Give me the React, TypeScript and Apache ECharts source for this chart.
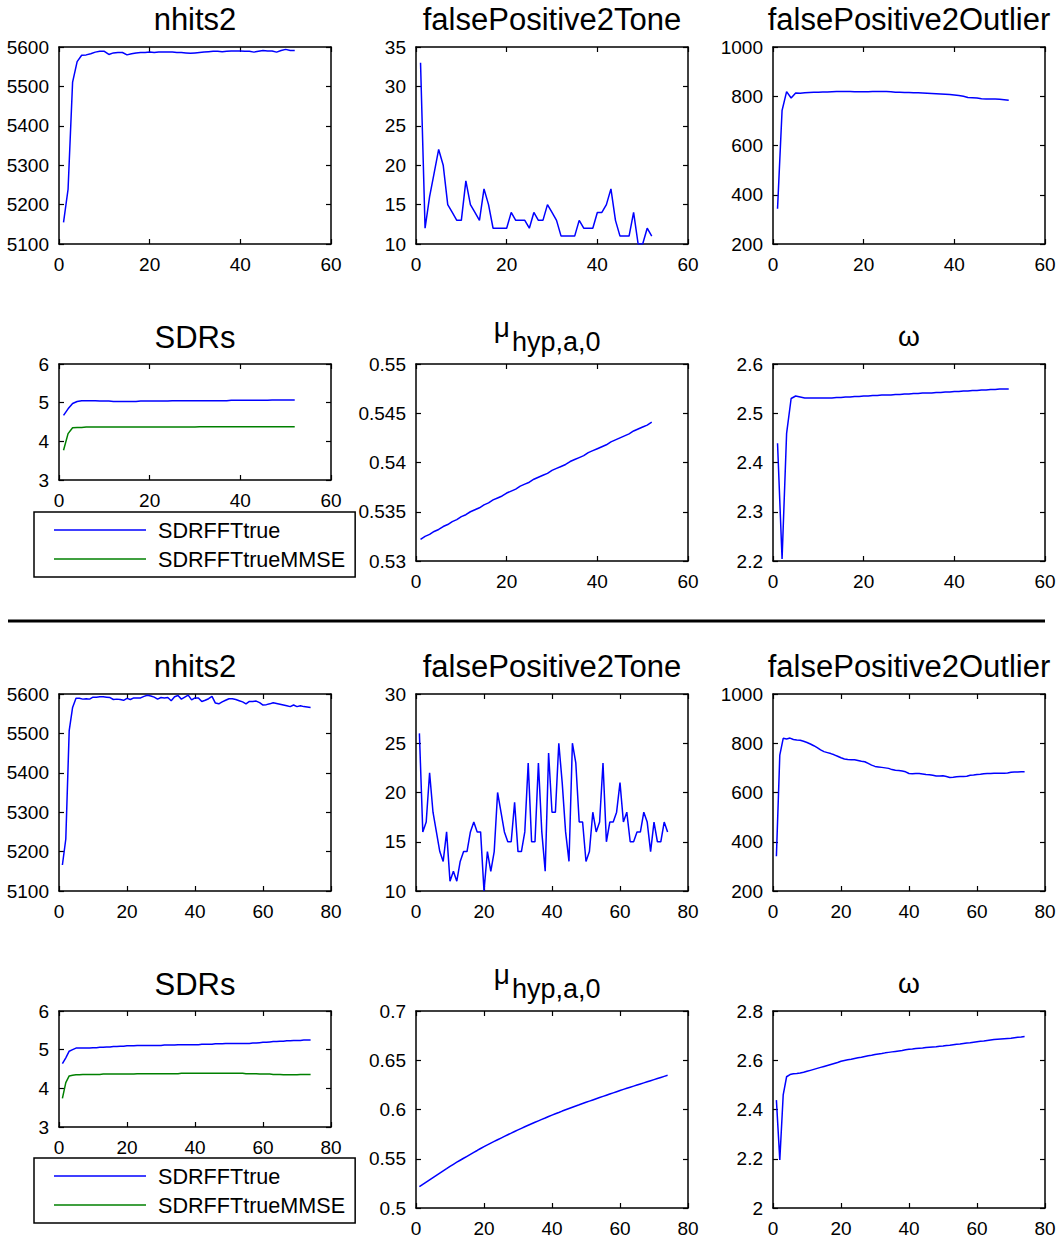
import React, { useEffect, useRef } from "react";
import * as echarts from "echarts";

// ---- Run A (52 iterations) ----
const nhits2A = [
  5155, 5239, 5511, 5563, 5579, 5580, 5583, 5587, 5589, 5589,
  5581, 5585, 5586, 5586, 5580, 5583, 5585, 5586, 5586, 5587,
  5586, 5587, 5587, 5587, 5587, 5586, 5586, 5585, 5584, 5585,
  5586, 5587, 5588, 5589, 5589, 5588, 5589, 5590, 5590, 5590,
  5589, 5589, 5587, 5589, 5591, 5590, 5590, 5587, 5591, 5594,
  5591, 5591,
];
const fpToneA = [
  33, 12, 16, 19, 22, 20, 15, 14, 13, 13,
  18, 15, 14, 13, 17, 15, 12, 12, 12, 12,
  14, 13, 13, 13, 12, 14, 13, 13, 15, 14,
  13, 11, 11, 11, 11, 13, 12, 12, 12, 14,
  14, 15, 17, 13, 11, 11, 11, 14, 10, 10,
  12, 11,
];
const fpOutlierA = [
  343, 742, 819, 793, 813, 812, 814, 815, 816, 816,
  817, 817, 818, 819, 819, 819, 819, 818, 818, 818,
  818, 819, 819, 819, 819, 818, 816, 816, 815, 815,
  814, 814, 813, 812, 811, 810, 809, 808, 807, 805,
  803, 800, 795, 794, 793, 790, 789, 789, 789, 788,
  786, 784,
];
const sdrTrueA = [
  4.67, 4.84, 4.98, 5.03, 5.05, 5.05, 5.05, 5.05, 5.04, 5.04,
  5.04, 5.03, 5.03, 5.03, 5.03, 5.03, 5.03, 5.04, 5.04, 5.04,
  5.04, 5.04, 5.04, 5.04, 5.05, 5.05, 5.05, 5.05, 5.05, 5.05,
  5.05, 5.05, 5.05, 5.05, 5.05, 5.05, 5.05, 5.06, 5.06, 5.06,
  5.06, 5.06, 5.06, 5.06, 5.06, 5.06, 5.07, 5.07, 5.07, 5.07,
  5.07, 5.07,
];
const sdrMmseA = [
  3.77, 4.2, 4.35, 4.36, 4.36, 4.37, 4.37, 4.37, 4.37, 4.37,
  4.37, 4.37, 4.37, 4.37, 4.37, 4.37, 4.37, 4.37, 4.37, 4.37,
  4.37, 4.37, 4.37, 4.37, 4.37, 4.37, 4.37, 4.37, 4.37, 4.37,
  4.38, 4.38, 4.38, 4.38, 4.38, 4.38, 4.38, 4.38, 4.38, 4.38,
  4.38, 4.38, 4.38, 4.38, 4.38, 4.38, 4.38, 4.38, 4.38, 4.38,
  4.38, 4.38,
];
const muA = [
  0.5322, 0.5325, 0.5327, 0.533, 0.5332, 0.5335, 0.5337, 0.534, 0.5342, 0.5345,
  0.5347, 0.535, 0.5352, 0.5354, 0.5357, 0.5359, 0.5362, 0.5364, 0.5366, 0.5369,
  0.5371, 0.5373, 0.5376, 0.5378, 0.538, 0.5383, 0.5385, 0.5387, 0.5389, 0.5392,
  0.5394, 0.5396, 0.5398, 0.5401, 0.5403, 0.5405, 0.5407, 0.541, 0.5412, 0.5414,
  0.5416, 0.5418, 0.5421, 0.5423, 0.5425, 0.5427, 0.5429, 0.5432, 0.5434, 0.5436,
  0.5438, 0.5441,
];
const omegaA = [
  2.439, 2.204, 2.459, 2.53, 2.535, 2.533, 2.531, 2.531, 2.531, 2.531,
  2.531, 2.531, 2.531, 2.532, 2.532, 2.533, 2.533, 2.534, 2.534, 2.535,
  2.535, 2.536, 2.536, 2.537, 2.537, 2.537, 2.538, 2.538, 2.539, 2.539,
  2.54, 2.54, 2.541, 2.541, 2.541, 2.542, 2.542, 2.543, 2.543, 2.544,
  2.544, 2.545, 2.545, 2.546, 2.546, 2.547, 2.547, 2.548, 2.548, 2.549,
  2.549, 2.549,
];

// ---- Run B (74 iterations) ----
const nhits2B = [
  5166, 5232, 5507, 5566, 5589, 5589, 5587, 5588, 5587, 5592,
  5592, 5593, 5593, 5592, 5591, 5586, 5587, 5586, 5584, 5589,
  5586, 5590, 5590, 5590, 5594, 5597, 5595, 5592, 5587, 5591,
  5590, 5591, 5583, 5593, 5596, 5587, 5592, 5597, 5585, 5590,
  5590, 5581, 5584, 5588, 5594, 5577, 5575, 5580, 5584, 5588,
  5588, 5586, 5583, 5580, 5575, 5581, 5581, 5582, 5578, 5572,
  5573, 5575, 5578, 5576, 5574, 5572, 5570, 5568, 5572, 5568,
  5570, 5568, 5567, 5566,
];
const fpToneB = [
  26, 16, 17, 22, 18, 16, 14, 13, 16, 11,
  12, 11, 13, 14, 14, 16, 17, 16, 16, 10,
  14, 12, 14, 20, 18, 16, 15, 15, 19, 14,
  14, 16, 23, 15, 15, 23, 16, 12, 24, 18,
  18, 25, 21, 16, 13, 25, 23, 17, 17, 13,
  14, 18, 16, 17, 23, 15, 17, 17, 18, 21,
  17, 18, 15, 15, 16, 16, 18, 17, 14, 17,
  15, 15, 17, 16,
];
const fpOutlierB = [
  341, 752, 820, 817, 821, 815, 813, 812, 808, 803,
  797, 790, 782, 773, 766, 762, 758, 753, 747, 741,
  736, 734, 733, 733, 730, 727, 725, 718, 711, 706,
  704, 702, 700, 698, 693, 690, 689, 687, 684, 677,
  676, 677, 677, 675, 673, 672, 670, 667, 667, 668,
  665, 661, 662, 664, 665, 665, 666, 670, 671, 673,
  674, 676, 677, 677, 678, 678, 678, 678, 679, 682,
  683, 683, 684, 684,
];
const sdrTrueB = [
  4.64, 4.79, 4.96, 5.0, 5.04, 5.04, 5.04, 5.04, 5.04, 5.05,
  5.05, 5.06, 5.06, 5.07, 5.07, 5.08, 5.08, 5.09, 5.09, 5.1,
  5.1, 5.1, 5.11, 5.11, 5.11, 5.11, 5.11, 5.11, 5.11, 5.11,
  5.12, 5.12, 5.12, 5.12, 5.13, 5.13, 5.13, 5.13, 5.13, 5.13,
  5.13, 5.14, 5.14, 5.14, 5.14, 5.15, 5.15, 5.15, 5.16, 5.16,
  5.16, 5.16, 5.16, 5.16, 5.16, 5.16, 5.17, 5.17, 5.18, 5.19,
  5.19, 5.2, 5.21, 5.21, 5.22, 5.22, 5.23, 5.23, 5.24, 5.24,
  5.24, 5.25, 5.25, 5.25,
];
const sdrMmseB = [
  3.74, 4.15, 4.32, 4.34, 4.35, 4.35, 4.36, 4.36, 4.36, 4.36,
  4.36, 4.36, 4.37, 4.37, 4.37, 4.37, 4.37, 4.37, 4.37, 4.37,
  4.37, 4.37, 4.38, 4.38, 4.38, 4.38, 4.38, 4.38, 4.38, 4.38,
  4.38, 4.38, 4.38, 4.38, 4.38, 4.39, 4.39, 4.39, 4.39, 4.39,
  4.39, 4.39, 4.39, 4.39, 4.39, 4.39, 4.39, 4.39, 4.39, 4.39,
  4.39, 4.39, 4.39, 4.39, 4.38, 4.38, 4.38, 4.38, 4.37, 4.37,
  4.37, 4.37, 4.36, 4.36, 4.36, 4.35, 4.35, 4.35, 4.35, 4.35,
  4.36, 4.36, 4.36, 4.36,
];
const muB = [
  0.5216, 0.524, 0.5263, 0.5286, 0.5309, 0.5332, 0.5355, 0.5378, 0.54, 0.5423,
  0.5444, 0.5465, 0.5485, 0.5505, 0.5525, 0.5545, 0.5565, 0.5584, 0.5604, 0.5623,
  0.5641, 0.5659, 0.5676, 0.5693, 0.571, 0.5727, 0.5744, 0.576, 0.5777, 0.5793,
  0.5809, 0.5825, 0.584, 0.5855, 0.587, 0.5885, 0.59, 0.5914, 0.5929, 0.5943,
  0.5957, 0.597, 0.5984, 0.5997, 0.601, 0.6023, 0.6036, 0.6048, 0.6061, 0.6073,
  0.6085, 0.6097, 0.6109, 0.6121, 0.6133, 0.6145, 0.6157, 0.6169, 0.6181, 0.6193,
  0.6204, 0.6215, 0.6226, 0.6237, 0.6248, 0.6259, 0.627, 0.6281, 0.6292, 0.6303,
  0.6314, 0.6325, 0.6336, 0.6347,
];
const omegaB = [
  2.438, 2.195, 2.459, 2.533, 2.542, 2.545, 2.546, 2.548, 2.551, 2.555,
  2.559, 2.563, 2.567, 2.571, 2.575, 2.579, 2.583, 2.587, 2.591, 2.596,
  2.599, 2.602, 2.604, 2.607, 2.61, 2.612, 2.615, 2.618, 2.62, 2.623,
  2.625, 2.627, 2.63, 2.632, 2.634, 2.636, 2.638, 2.64, 2.643, 2.645,
  2.646, 2.648, 2.649, 2.65, 2.652, 2.653, 2.654, 2.655, 2.657, 2.658,
  2.66, 2.661, 2.663, 2.665, 2.666, 2.668, 2.67, 2.671, 2.673, 2.675,
  2.677, 2.678, 2.68, 2.682, 2.684, 2.685, 2.686, 2.687, 2.688, 2.689,
  2.691, 2.693, 2.694, 2.696,
];

const legendNames = ["SDRFFTtrue", "SDRFFTtrueMMSE"];

const FONT = "'Liberation Sans', Arial, Helvetica, sans-serif";
const BLUE = "#0000ff";
const GREEN = "#008000";
const BLACK = "#000000";

type Line = { name?: string; data: number[]; color: string };
type Panel = {
  title: string;
  left: number;
  top: number;
  width: number;
  height: number;
  xMax: number;
  yMin: number;
  yMax: number;
  yStep: number;
  lines: Line[];
};

const COLS = [59, 416, 773];
const PW = 272;
const PH = 197;

function halfPanels(
  yOff: number,
  xMax: number,
  d: {
    nhits: number[];
    tone: number[];
    outlier: number[];
    sdrT: number[];
    sdrM: number[];
    mu: number[];
    omega: number[];
    toneMax: number;
    muRange: [number, number, number];
    omRange: [number, number, number];
  }
): Panel[] {
  return [
    { title: "nhits2", left: COLS[0], top: 47 + yOff, width: PW, height: PH, xMax, yMin: 5100, yMax: 5600, yStep: 100, lines: [{ data: d.nhits, color: BLUE }] },
    { title: "falsePositive2Tone", left: COLS[1], top: 47 + yOff, width: PW, height: PH, xMax, yMin: 10, yMax: d.toneMax, yStep: 5, lines: [{ data: d.tone, color: BLUE }] },
    { title: "falsePositive2Outlier", left: COLS[2], top: 47 + yOff, width: PW, height: PH, xMax, yMin: 200, yMax: 1000, yStep: 200, lines: [{ data: d.outlier, color: BLUE }] },
    {
      title: "SDRs", left: COLS[0], top: 364 + yOff, width: PW, height: 116, xMax, yMin: 3, yMax: 6, yStep: 1,
      lines: [
        { name: legendNames[0], data: d.sdrT, color: BLUE },
        { name: legendNames[1], data: d.sdrM, color: GREEN },
      ],
    },
    { title: "", left: COLS[1], top: 364 + yOff, width: PW, height: PH, xMax, yMin: d.muRange[0], yMax: d.muRange[1], yStep: d.muRange[2], lines: [{ data: d.mu, color: BLUE }] },
    { title: "ω", left: COLS[2], top: 364 + yOff, width: PW, height: PH, xMax, yMin: d.omRange[0], yMax: d.omRange[1], yStep: d.omRange[2], lines: [{ data: d.omega, color: BLUE }] },
  ];
}

const HALF_B = 647;

const panels: Panel[] = [
  ...halfPanels(0, 60, {
    nhits: nhits2A, tone: fpToneA, outlier: fpOutlierA, sdrT: sdrTrueA, sdrM: sdrMmseA, mu: muA, omega: omegaA,
    toneMax: 35, muRange: [0.53, 0.55, 0.005], omRange: [2.2, 2.6, 0.1],
  }),
  ...halfPanels(HALF_B, 80, {
    nhits: nhits2B, tone: fpToneB, outlier: fpOutlierB, sdrT: sdrTrueB, sdrM: sdrMmseB, mu: muB, omega: omegaB,
    toneMax: 30, muRange: [0.5, 0.7, 0.05], omRange: [2, 2.8, 0.2],
  }),
];

const fmt = (v: number) => String(parseFloat(v.toFixed(6)));

function buildOption() {
  const grid: any[] = [];
  const xAxis: any[] = [];
  const yAxis: any[] = [];
  const series: any[] = [];
  const graphic: any[] = [];

  const axisLine = { show: true, onZero: false, lineStyle: { color: BLACK, width: 1.5 } };
  const axisTick = { show: true, inside: true, length: 5, lineStyle: { color: BLACK, width: 1.2 } };
  const labelText = { show: true, color: BLACK, fontSize: 19, fontFamily: FONT, formatter: fmt };

  panels.forEach((p, i) => {
    grid.push({ left: p.left, top: p.top, width: p.width, height: p.height, show: false });
    const xBase = { type: "value", gridIndex: i, min: 0, max: p.xMax, interval: 20, axisLine, axisTick, splitLine: { show: false } };
    const yBase = { type: "value", gridIndex: i, min: p.yMin, max: p.yMax, interval: p.yStep, axisLine, axisTick, splitLine: { show: false } };
    xAxis.push({ ...xBase, position: "bottom", axisLabel: { ...labelText, margin: 11 } });
    xAxis.push({ ...xBase, position: "top", axisLabel: { show: false } });
    yAxis.push({ ...yBase, position: "left", axisLabel: { ...labelText, margin: 10 } });
    yAxis.push({ ...yBase, position: "right", axisLabel: { show: false } });

    p.lines.forEach((ln) => {
      series.push({
        type: "line",
        name: ln.name,
        xAxisIndex: 2 * i,
        yAxisIndex: 2 * i,
        data: ln.data.map((v, k) => [k + 1, v]),
        symbol: "none",
        showSymbol: false,
        clip: true,
        silent: true,
        lineStyle: { color: ln.color, width: 1.5 },
        itemStyle: { color: ln.color },
      });
    });
  });

  // Panel titles
  const titleY = [19, 337];
  [0, HALF_B].forEach((off) => {
    panels.slice(0, 6).forEach((p, j) => {
      const cx = p.left + p.width / 2;
      const ty = titleY[j < 3 ? 0 : 1] + off;
      if (j === 4) {
        // μ with its subscript set beside it
        graphic.push({
          type: "text", x: 510, y: 327 + off,
          style: { text: "μ", fill: BLACK, fontSize: 28, fontFamily: FONT, align: "right", verticalAlign: "middle" },
        });
        graphic.push({
          type: "text", x: 512, y: 342 + off,
          style: { text: "hyp,a,0", fill: BLACK, fontSize: 27, fontFamily: FONT, align: "left", verticalAlign: "middle" },
        });
      } else if (j === 5) {
        graphic.push({
          type: "text", x: cx, y: ty - 1,
          style: { text: p.title, fill: BLACK, fontSize: 28, fontFamily: FONT, align: "center", verticalAlign: "middle" },
        });
      } else {
        graphic.push({
          type: "text", x: cx, y: ty,
          style: { text: p.title, fill: BLACK, fontSize: 31, fontFamily: FONT, align: "center", verticalAlign: "middle" },
        });
      }
    });
  });

  // Divider between the two runs
  graphic.push({
    type: "line",
    shape: { x1: 8, y1: 621, x2: 1045, y2: 621 },
    style: { stroke: BLACK, lineWidth: 3 },
  });

  const legendBase = {
    orient: "vertical",
    left: 34,
    itemWidth: 92,
    itemHeight: 1.5,
    itemGap: 7,
    icon: "rect",
    padding: [7, 10, 7, 20],
    borderColor: BLACK,
    borderWidth: 1.5,
    borderRadius: 0,
    backgroundColor: "#ffffff",
    selectedMode: false,
    textStyle: { color: BLACK, fontSize: 21.6, fontFamily: FONT, lineHeight: 22, padding: [0, 0, 0, 7] },
    data: legendNames,
  };

  return {
    animation: false,
    backgroundColor: "#ffffff",
    grid,
    xAxis,
    yAxis,
    series,
    graphic,
    legend: [
      { ...legendBase, top: 512 },
      { ...legendBase, top: 512 + HALF_B - 1 },
    ],
  };
}

export default function App() {
  const ref = useRef<HTMLDivElement>(null);
  useEffect(() => {
    document.body.style.margin = "0";
    if (!ref.current) return;
    const chart = echarts.init(ref.current, undefined, { renderer: "svg" });
    chart.setOption(buildOption() as any);
    return () => chart.dispose();
  }, []);
  return <div ref={ref} style={{ width: 1060, height: 1241 }} />;
}
